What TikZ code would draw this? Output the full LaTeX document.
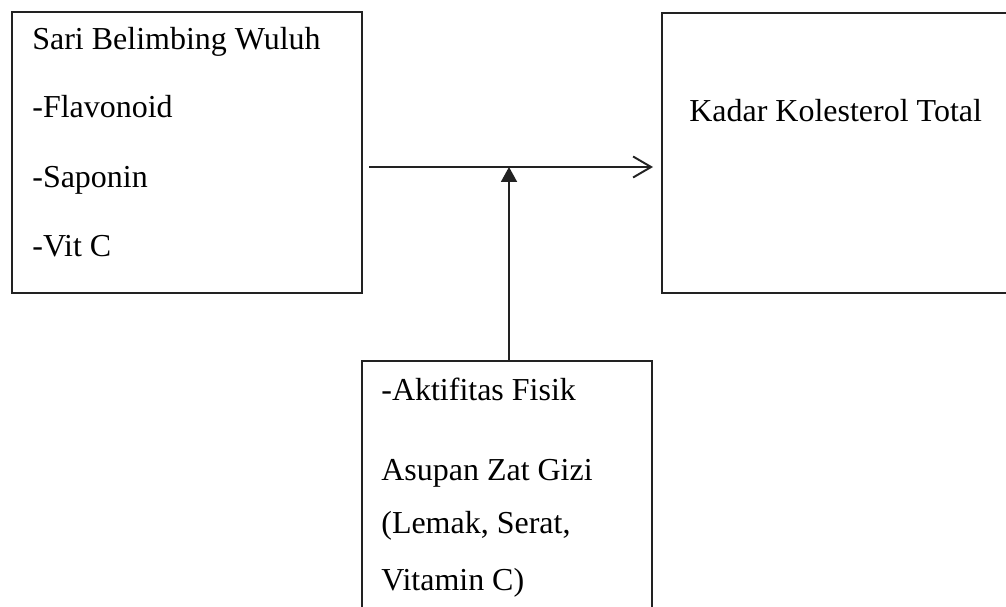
\documentclass[tikz,border=0pt]{standalone}
\usepackage{fontspec}
\setmainfont{Liberation Serif}
\usetikzlibrary{arrows.meta}
\definecolor{garis}{HTML}{222222}
\tikzset{
  kotak/.style={draw=garis,line width=0.9pt,anchor=north west,inner sep=0pt},
  teks/.style={anchor=base west,inner sep=0pt,font=\fontsize{18.2}{22}\selectfont},
  panah/.style={garis,line width=1.1pt}
}
\begin{document}
\begin{tikzpicture}[x=0.02cm,y=-0.02cm]
  \useasboundingbox (0,0) rectangle (1006,607);
  \node[kotak,minimum width=7cm,minimum height=5.62cm] (sari) at (11,11) {};
  \node[kotak,minimum width=7cm,minimum height=5.6cm] (kadar) at (661,12) {};
  \node[kotak,minimum width=5.8cm,minimum height=5.2cm] (faktor) at (361,360) {};
  \node[teks] (t1) at (32,50) {Sari Belimbing Wuluh};
  \node[teks] (t2) at (32,118) {-Flavonoid};
  \node[teks] (t3) at (32,188) {-Saponin};
  \node[teks] (t4) at (32,257) {-Vit C};
  \node[teks] (t5) at (689,122) {Kadar Kolesterol Total};
  \node[teks] (t6) at (381,400) {-Aktifitas Fisik};
  \node[teks] (t7) at (381,480) {Asupan Zat Gizi};
  \node[teks] (t8) at (381,533) {(Lemak, Serat,};
  \node[teks] (t9) at (381,590) {Vitamin C)};
  \coordinate (awal) at (369,167);
  \coordinate (akhir) at (653,167);
  \coordinate (temu) at (509,167);
  \draw[panah,-{Straight Barb[length=0.36cm,width=0.42cm]}] (awal) -- (akhir);
  \draw[panah,-{Triangle[length=0.3cm,width=0.32cm]}] (faktor.north -| temu) -- (temu);
\end{tikzpicture}
\end{document}
